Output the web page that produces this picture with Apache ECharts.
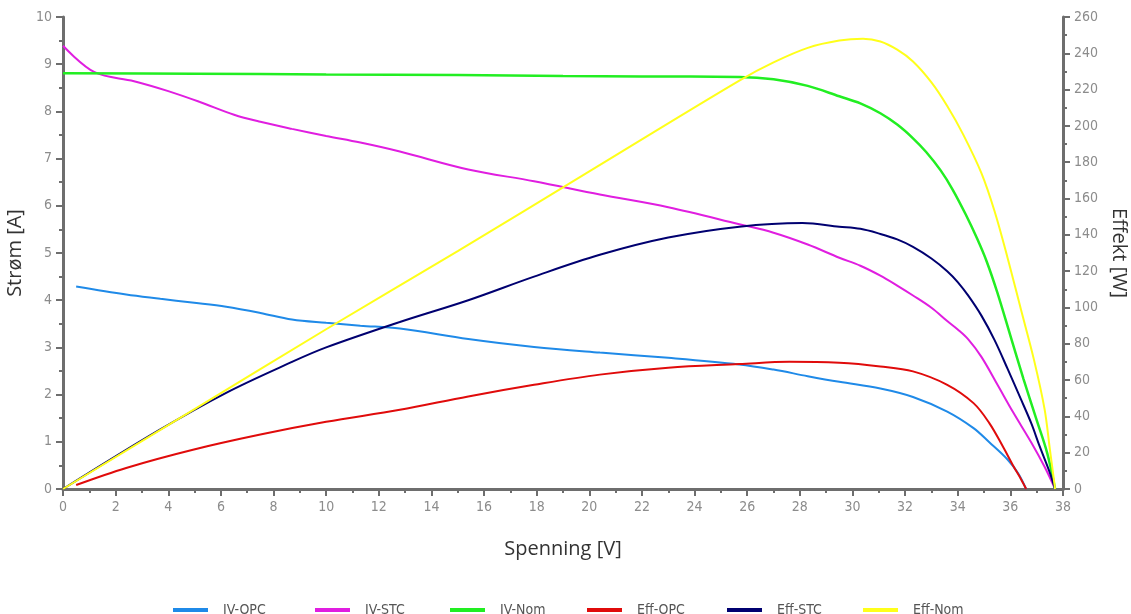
<!DOCTYPE html>
<html>
<head>
<meta charset="utf-8">
<title>IV / Effekt</title>
<script src="https://cdn.jsdelivr.net/npm/echarts@6/dist/echarts.min.js"></script>
<style>
html,body{margin:0;padding:0;background:#fff;}
#chart{width:1131px;height:614px;}
</style>
</head>
<body>
<div id="chart"></div>
<script>
// spenning [V] og strøm [A] / effekt [W]
var opcV = [0.5, 2.4, 3.7, 4.9, 6.2, 7.5, 8.7, 10.0, 11.3, 12.8, 15.4, 17.9, 20.4, 23.0, 25.7, 27.0, 28.3, 29.5, 31.06, 32.3, 33.6, 34.6, 35.2, 35.9, 36.3, 36.6];
var opcI = [4.29, 4.12, 4.03, 3.95, 3.86, 3.73, 3.59, 3.52, 3.46, 3.40, 3.18, 3.01, 2.89, 2.78, 2.64, 2.53, 2.39, 2.27, 2.13, 1.95, 1.64, 1.29, 0.99, 0.62, 0.33, 0];

var stcV = [0, 1.2, 2.7, 4.0, 5.2, 6.5, 7.5, 8.7, 10.0, 11.3, 12.8, 15.4, 17.9, 20.4, 23.0, 25.7, 27.0, 28.3, 29.5, 30.3, 31.06, 31.7, 32.3, 33.0, 33.6, 34.0, 34.4, 34.9, 35.5, 36.1, 36.8, 37.3, 37.7];
var stcI = [9.39, 8.83, 8.64, 8.43, 8.20, 7.93, 7.78, 7.63, 7.48, 7.34, 7.15, 6.77, 6.52, 6.24, 5.97, 5.61, 5.43, 5.18, 4.90, 4.73, 4.52, 4.31, 4.10, 3.84, 3.56, 3.38, 3.17, 2.80, 2.22, 1.63, 0.98, 0.47, 0];

var nomV = [0, 5, 10, 15, 19, 22, 25.7, 27.0, 28.3, 29.5, 30.3, 31.06, 31.7, 32.3, 32.8, 33.35, 33.8, 34.3, 34.74, 35.1, 35.5, 36.0, 36.5, 37.0, 37.4, 37.7];
var nomI = [8.81, 8.80, 8.78, 8.77, 8.75, 8.74, 8.73, 8.68, 8.54, 8.32, 8.17, 7.96, 7.72, 7.43, 7.14, 6.75, 6.35, 5.82, 5.30, 4.82, 4.17, 3.25, 2.33, 1.46, 0.76, 0];

var effOpcV = [0.5, 2.4, 4.9, 7.5, 10.0, 12.8, 15.4, 17.9, 20.4, 23.0, 25.7, 27.6, 29.5, 31.06, 32.3, 33.6, 34.6, 35.2, 35.7, 36.1, 36.4, 36.6];
var effOpcW = [2.2, 11.6, 21.5, 30, 37, 43.6, 51, 57.4, 63, 66.8, 68.8, 70.1, 69.5, 67.5, 64.8, 57.4, 47.3, 36.3, 23.8, 13, 5.5, 0];

var effStcV = [0, 3.6, 6.2, 8.7, 10.0, 12.8, 15.4, 17.9, 20.4, 23.0, 25.7, 28.1, 29.5, 30.3, 31.06, 31.7, 32.3, 33.0, 33.6, 34.0, 34.4, 34.9, 35.4, 35.9, 36.4, 36.8, 37.1, 37.5, 37.7];
var effStcW = [0, 32, 53, 70, 78, 92, 104, 117, 129, 138.5, 144.5, 146.5, 144.5, 143.3, 140.5, 137.5, 133.4, 127, 120, 114, 106.5, 95.5, 82, 66, 49.5, 36, 24, 9, 0];

var effNomV = [0, 5, 10, 15, 20, 25.7, 27.0, 28.3, 29.5, 30.4, 31.06, 31.7, 32.3, 33.0, 33.6, 34.2, 34.9, 35.4, 35.9, 36.4, 36.9, 37.3, 37.5, 37.7];
var effNomW = [0, 44, 88, 131, 175, 225, 235, 243, 247, 248, 246.5, 242, 235.5, 224, 211, 195.5, 174, 153, 127, 99, 71, 44, 22, 0];

var names = ['IV-OPC', 'IV-STC', 'IV-Nom', 'Eff-OPC', 'Eff-STC', 'Eff-Nom'];
var colors = ['#1f8ae8', '#e01ee0', '#22ee22', '#e00b0b', '#000070', '#ffff1a'];
var legendLeft = [168, 310, 445, 582, 722, 858];

function pairs(xs, ys){
	var out = [];
	for(var i=0;i<xs.length;i++){
		out.push([xs[i], ys[i]]);
	}
	return out;
}

var narrow = '"Liberation Sans Narrow","DejaVu Sans Condensed","Roboto Condensed",sans-serif';
var tickFont = {color:'#8c8c8c', fontSize:14, fontFamily:narrow};
var axisLine = {show:true, lineStyle:{color:'#6e6e6e', width:3}};
var axisTick = {show:true, inside:false, length:7, lineStyle:{color:'#6e6e6e', width:2}};
var minorTick = {show:true, splitNumber:2, length:4, lineStyle:{color:'#6e6e6e', width:2}};
var titleFont = {color:'#333', fontSize:20, fontFamily:'"Open Sans","Noto Sans",sans-serif'};

function line(idx, data, yIndex, width){
	return {
		name: names[idx],
		type: 'line',
		yAxisIndex: yIndex,
		data: data,
		smooth: 0.35,
		showSymbol: false,
		symbol: 'none',
		lineStyle: {color: colors[idx], width: width},
		itemStyle: {color: colors[idx]}
	};
}

var legends = [];
for(var i=0;i<names.length;i++){
	legends.push({
		data: [names[i]],
		left: legendLeft[i],
		top: 598,
		itemWidth: 35,
		itemHeight: 4,
		icon: 'rect',
		textStyle: {color:'#555', fontSize:14, padding:[0,0,0,10], fontFamily:narrow}
	});
}

var myChart = echarts.init(document.getElementById('chart'));
var option = {
	backgroundColor: '#fff',
	animation: false,
	grid: {left:63, right:68, top:17, bottom:125, containLabel:false, outerBoundsMode:'none'},
	legend: legends,
	xAxis: {
		type: 'value',
		min: 0,
		max: 38,
		interval: 2,
		name: 'Spenning [V]',
		nameLocation: 'middle',
		nameGap: 50,
		nameTextStyle: titleFont,
		axisLine: axisLine,
		axisTick: axisTick,
		minorTick: minorTick,
		axisLabel: Object.assign({margin:11}, tickFont),
		splitLine: {show:false}
	},
	yAxis: [{
		type: 'value',
		position: 'left',
		min: 0,
		max: 10,
		interval: 1,
		name: 'Strøm [A]',
		nameLocation: 'middle',
		nameGap: 31,
		nameTextStyle: titleFont,
		axisLine: axisLine,
		axisTick: axisTick,
		minorTick: minorTick,
		axisLabel: Object.assign({margin:11}, tickFont),
		splitLine: {show:false}
	},{
		type: 'value',
		position: 'right',
		min: 0,
		max: 260,
		interval: 20,
		name: 'Effekt [W]',
		nameLocation: 'middle',
		nameGap: 44,
		nameRotate: -90,
		nameTextStyle: titleFont,
		axisLine: axisLine,
		axisTick: axisTick,
		minorTick: minorTick,
		axisLabel: Object.assign({margin:11}, tickFont),
		splitLine: {show:false}
	}],
	series: [
		line(0, pairs(opcV, opcI), 0, 2),
		line(1, pairs(stcV, stcI), 0, 2),
		line(2, pairs(nomV, nomI), 0, 2.5),
		line(3, pairs(effOpcV, effOpcW), 1, 2),
		line(4, pairs(effStcV, effStcW), 1, 2),
		line(5, pairs(effNomV, effNomW), 1, 2)
	]
};
myChart.setOption(option);
</script>
</body>
</html>
